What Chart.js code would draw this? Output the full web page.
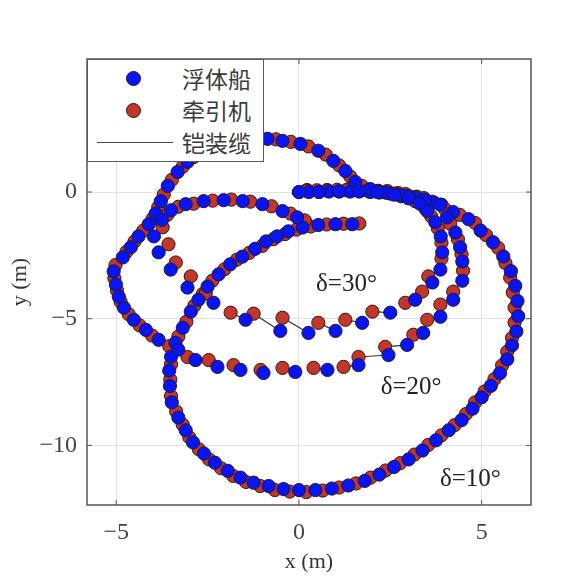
<!DOCTYPE html>
<html>
<head>
<meta charset="utf-8">
<script src="https://cdn.jsdelivr.net/npm/chart.js@4.4.1/dist/chart.umd.min.js"></script>
<style>
  html, body { margin: 0; padding: 0; background: #fff; }
  #wrap { position: relative; width: 586px; height: 587px; }
  #legend { position: absolute; left: 87px; top: 59px; width: 175px; height: 101px; background: #fff; border: 1.5px solid #5a5a5a; }
  .mk { position: absolute; left: 38px; width: 13px; height: 13px; border-radius: 50%; }
  .lbl { position: absolute; left: 94px; font-size: 23px; line-height: 23px; font-family: "Noto Sans CJK SC", sans-serif; color: #3a3a3a; }
  .ln { position: absolute; left: 9px; top: 82px; width: 76px; height: 0; border-top: 1.5px solid #444; }
</style>
</head>
<body>
<div id="wrap">
  <canvas id="c" width="586" height="587"></canvas>
  <div id="legend">
    <div class="mk" style="top:11px;background:#0a14f0;border:1px solid #1b1b3a"></div>
    <div class="lbl" style="top:7px">浮体船</div>
    <div class="mk" style="top:43px;background:#c2372a;border:1px solid #3a1410"></div>
    <div class="lbl" style="top:39px">牵引机</div>
    <div class="ln"></div>
    <div class="lbl" style="top:71px">铠装缆</div>
  </div>
</div>
<script>
// --- data (metres) ---
// δ=10°
const vessel10X = [0,0.55,1.1,1.65,2.2,2.7,3.2,3.7,4.22,4.64,4.97,5.31,5.59,5.8,5.92,5.98,6.0,5.95,5.83,5.7,5.5,5.25,5.0,4.75,4.45,4.1,3.75,3.38,3.0,2.6,2.2,1.8,1.35,0.9,0.45,0.0,-0.42,-0.83,-1.24,-1.6,-1.95,-2.3,-2.6,-2.9,-3.1,-3.3,-3.48,-3.53,-3.55,-3.5,-3.38,-3.18,-2.96,-2.75,-2.5,-2.2,-1.88,-1.55,-1.2,-0.9,-0.6,-0.29,0.1,0.53,1.0,1.46];
const vessel10Y = [0,0,0.02,0.02,-0.02,-0.1,-0.22,-0.42,-0.79,-1.07,-1.52,-1.98,-2.54,-3.12,-3.7,-4.3,-4.9,-5.5,-6.05,-6.6,-7.15,-7.65,-8.1,-8.55,-9.0,-9.4,-9.8,-10.2,-10.55,-10.85,-11.15,-11.4,-11.58,-11.7,-11.76,-11.76,-11.72,-11.6,-11.47,-11.27,-11.0,-10.68,-10.32,-9.88,-9.4,-8.9,-8.3,-7.65,-7.05,-6.5,-5.95,-5.36,-4.72,-4.25,-3.73,-3.25,-2.85,-2.55,-2.24,-1.95,-1.75,-1.55,-1.4,-1.3,-1.27,-1.27];
const tug10X = [0.22,0.77,1.32,1.87,2.42,2.92,3.42,3.9,4.4,4.82,5.12,5.45,5.65,5.78,5.85,5.9,5.9,5.83,5.7,5.56,5.35,5.08,4.82,4.57,4.26,3.9,3.54,3.16,2.77,2.37,1.96,1.56,1.1,0.65,0.2,-0.25,-0.66,-1.06,-1.45,-1.8,-2.13,-2.46,-2.74,-3.0,-3.18,-3.36,-3.5,-3.52,-3.5,-3.44,-3.3,-3.08,-2.86,-2.63,-2.37,-2.04,-1.7,-1.36,-1.0,-0.7,-0.38,-0.07,0.32,0.76,1.22,1.65];
const tug10Y = [0.08,0.08,0.1,0.08,0.04,-0.08,-0.24,-0.5,-0.9,-1.22,-1.7,-2.2,-2.8,-3.38,-3.96,-4.56,-5.15,-5.76,-6.3,-6.84,-7.38,-7.87,-8.3,-8.76,-9.2,-9.6,-9.98,-10.36,-10.7,-10.99,-11.27,-11.5,-11.66,-11.78,-11.84,-11.82,-11.76,-11.6,-11.44,-11.2,-10.9,-10.55,-10.15,-9.68,-9.18,-8.66,-8.05,-7.4,-6.8,-6.25,-5.7,-5.12,-4.48,-4.02,-3.5,-3.05,-2.67,-2.4,-2.12,-1.86,-1.66,-1.48,-1.36,-1.28,-1.25,-1.24];

// δ=20°
const vessel20X = [0.27,0.82,1.4,1.95,2.5,3.0,3.45,3.87,4.05,4.28,4.41,4.47,4.47,4.22,3.87,3.4,2.96,2.45,1.63,0.78,-0.1,-0.97,-1.6,-2.23,-2.83,-3.3,-3.84,-4.19,-4.52,-4.79,-4.93,-5.01,-5.07,-4.82,-4.6,-4.39,-4.11,-3.92,-3.78,-3.59,-3.32,-3.05,-2.7,-2.25,-1.75,-1.3,-0.86,-0.45,0.04,0.53,0.94,1.27,1.54,1.95,2.4,2.85];
const vessel20Y = [0,0.02,0.02,0,-0.06,-0.16,-0.3,-0.5,-1.0,-1.6,-2.18,-2.74,-3.5,-4.25,-4.92,-5.56,-6.03,-6.43,-6.83,-7.02,-7.1,-7.14,-7.02,-6.9,-6.63,-6.22,-5.83,-5.44,-5.04,-4.56,-4.13,-3.65,-3.13,-2.58,-2.18,-1.75,-1.27,-0.85,-0.36,0.24,0.79,1.19,1.6,1.88,2.02,2.08,2.1,2.02,1.9,1.63,1.23,0.83,0.4,0.12,-0.02,-0.14];
const tug20X = [0.49,1.04,1.62,2.17,2.72,3.22,3.65,4.0,4.14,4.35,4.45,4.49,4.22,3.87,3.51,3.13,2.36,1.63,1.22,0.4,-0.45,-1.05,-1.79,-2.47,-3.05,-3.55,-4.02,-4.36,-4.66,-4.88,-4.98,-5.05,-5.02,-4.72,-4.5,-4.26,-4.0,-3.85,-3.7,-3.48,-3.18,-2.88,-2.48,-2.02,-1.52,-1.07,-0.63,-0.22,0.26,0.73,1.1,1.4,1.72,2.17,2.62,3.07];
const tug20Y = [0.07,0.09,0.08,0.05,-0.04,-0.18,-0.38,-0.68,-1.25,-1.86,-2.45,-3.1,-3.93,-4.44,-5.04,-5.63,-6.11,-6.51,-6.9,-6.94,-6.94,-7.02,-6.83,-6.63,-6.51,-6.08,-5.66,-5.26,-4.82,-4.33,-3.88,-3.4,-2.88,-2.36,-1.95,-1.52,-1.05,-0.6,-0.1,0.48,1.0,1.38,1.74,1.96,2.06,2.1,2.08,1.98,1.8,1.48,1.05,0.62,0.24,0.04,-0.06,-0.2];

// δ=30°
const vessel30X = [0,0.55,1.1,1.65,2.15,2.6,3.0,3.3,3.51,3.73,3.88,3.92,3.87,3.65,3.18,2.5,1.73,1.0,0.26,-0.51,-1.46,-2.34,-3.05,-3.51,-3.84,-3.97,-3.75,-3.5,-3.1,-2.61,-2.06,-1.54,-1.0,-0.45,-0.05];
const vessel30Y = [0,0.01,0.03,0.04,0,-0.1,-0.25,-0.45,-0.75,-1.19,-1.75,-2.38,-3.06,-3.57,-4.25,-4.76,-5.16,-5.48,-5.56,-5.48,-5.04,-4.37,-3.77,-3.06,-2.38,-1.75,-1.1,-0.72,-0.48,-0.36,-0.32,-0.36,-0.48,-0.75,-1.0];
const tug30X = [0.22,0.77,1.32,1.87,2.37,2.8,3.18,3.44,3.62,3.8,3.9,3.9,3.54,3.37,2.91,2.01,1.27,0.53,-0.45,-1.24,-1.87,-2.55,-2.96,-3.37,-3.57,-3.73,-3.6,-3.3,-2.88,-2.36,-1.85,-1.33,-0.75,-0.23,0.16];
const tug30Y = [0.05,0.06,0.07,0.06,-0.02,-0.17,-0.36,-0.62,-0.96,-1.43,-2.0,-2.63,-3.33,-3.93,-4.37,-4.72,-5.04,-5.16,-4.96,-4.8,-4.76,-4.0,-3.33,-2.78,-2.06,-1.39,-0.9,-0.58,-0.46,-0.34,-0.3,-0.38,-0.56,-0.85,-1.12];

const xTicks = [-5, 0, 5];
const yTicks = [-10, -5, 0];
const deltaText = ['δ=10°', 'δ=20°', 'δ=30°'];
const deltaX = [4.69, 3.07, 1.30];
const deltaY = [-11.35, -7.70, -3.65];

const runs = [
  [vessel10X, vessel10Y, tug10X, tug10Y],
  [vessel20X, vessel20Y, tug20X, tug20Y],
  [vessel30X, vessel30Y, tug30X, tug30Y]
];

let vesselPts = [], tugPts = [], cablePts = [];
runs.forEach(([vx, vy, tx, ty]) => {
  vx.forEach((x, i) => {
    vesselPts.push({x: x, y: vy[i]});
    tugPts.push({x: tx[i], y: ty[i]});
    cablePts.push({x: tx[i], y: ty[i]}, {x: x, y: vy[i]}, {x: x, y: null});
  });
});

const fmt = v => v < 0 ? '\u2212' + Math.abs(v) : String(v);

// box with inward ticks + δ labels
const frame = {
  id: 'frame',
  afterDatasetsDraw(chart) {
    const {ctx, chartArea: a, scales: {x, y}} = chart;
    ctx.save();
    ctx.font = '25px "Liberation Serif"';
    ctx.fillStyle = '#222';
    ctx.textAlign = 'center';
    ctx.textBaseline = 'middle';
    deltaText.forEach((t, i) => ctx.fillText(t, x.getPixelForValue(deltaX[i]), y.getPixelForValue(deltaY[i])));

    ctx.strokeStyle = '#555';
    ctx.lineWidth = 1.5;
    ctx.strokeRect(a.left, a.top, a.right - a.left, a.bottom - a.top);
    ctx.lineWidth = 1;
    ctx.beginPath();
    xTicks.forEach(v => {
      const px = x.getPixelForValue(v);
      ctx.moveTo(px, a.bottom); ctx.lineTo(px, a.bottom - 5);
      ctx.moveTo(px, a.top); ctx.lineTo(px, a.top + 5);
    });
    yTicks.forEach(v => {
      const py = y.getPixelForValue(v);
      ctx.moveTo(a.left, py); ctx.lineTo(a.left + 5, py);
      ctx.moveTo(a.right, py); ctx.lineTo(a.right - 5, py);
    });
    ctx.stroke();
    ctx.restore();
  }
};

const tickFont = {family: '"Liberation Serif", serif', size: 24};
const titleFont = {family: '"Liberation Serif", serif', size: 22};

new Chart(document.getElementById('c'), {
  type: 'scatter',
  data: {
    datasets: [
      {label: '浮体船', data: vesselPts, order: 0, pointRadius: 6.6, borderWidth: 1,
       backgroundColor: '#0a14f0', borderColor: '#1b1b3a'},
      {label: '牵引机', data: tugPts, order: 1, pointRadius: 6.6, borderWidth: 1,
       backgroundColor: '#c2372a', borderColor: '#3a1410'},
      {label: '铠装缆', data: cablePts, order: 2, showLine: true, spanGaps: false, pointRadius: 0,
       borderColor: '#333', borderWidth: 1.2}
    ]
  },
  options: {
    responsive: false,
    animation: false,
    events: [],
    layout: {padding: {top: 59, right: 55, left: 0, bottom: 0}},
    plugins: {legend: {display: false}, tooltip: {enabled: false}},
    scales: {
      x: {
        type: 'linear', min: -5.8, max: 6.35,
        afterBuildTicks: s => { s.ticks = xTicks.map(v => ({value: v})); },
        afterFit: s => { s.height = 82; },
        grid: {color: '#e2e2e2', drawTicks: false},
        border: {display: false},
        ticks: {padding: 13, color: '#444', font: tickFont, callback: v => fmt(v)},
        title: {display: true, text: 'x (m)', color: '#333', font: titleFont, padding: {top: 0, bottom: 12}}
      },
      y: {
        type: 'linear', min: -12.35, max: 5.25,
        afterBuildTicks: s => { s.ticks = yTicks.map(v => ({value: v})); },
        afterFit: s => { s.width = 87; },
        grid: {color: '#e2e2e2', drawTicks: false},
        border: {display: false},
        ticks: {padding: 10, color: '#444', font: tickFont, callback: v => fmt(v)},
        title: {display: true, text: 'y (m)', color: '#333', font: titleFont, padding: {top: 7, bottom: 0}}
      }
    }
  },
  plugins: [frame]
});
</script>
</body>
</html>
